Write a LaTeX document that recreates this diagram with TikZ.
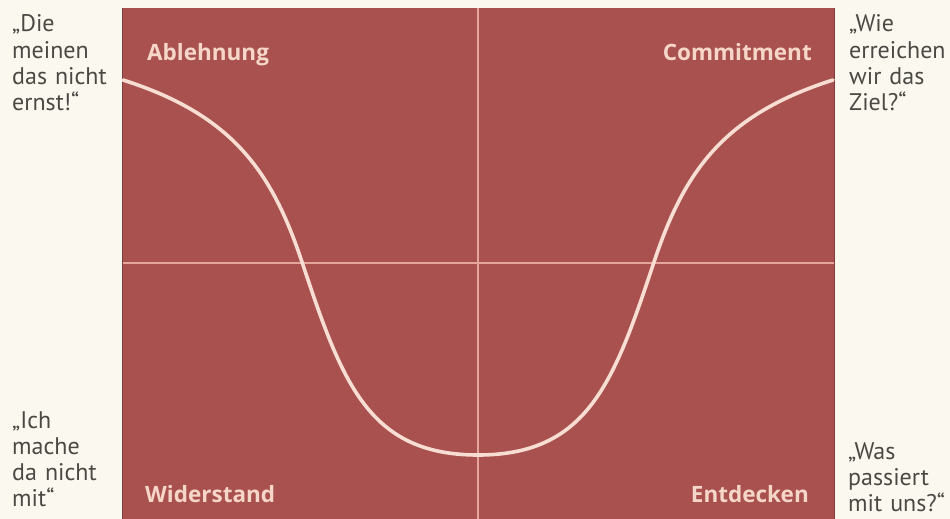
\documentclass[tikz,border=0pt]{standalone}
\usepackage{fontspec}
\setmainfont{PT Sans}
\newfontfamily\labelfont{Open Sans}
\definecolor{bgcream}{HTML}{FBF8EF}
\definecolor{panelred}{HTML}{A9514F}
\definecolor{paneledge}{HTML}{7E3C3A}
\definecolor{gridpink}{HTML}{E6A59C}
\definecolor{curvecream}{HTML}{F8DDD2}
\definecolor{labelpink}{HTML}{F6D6C9}
\definecolor{quotegray}{HTML}{4A4944}
\begin{document}
\begin{tikzpicture}[x=1pt,y=-1pt,
  quote/.style={anchor=base west, inner sep=0pt, text width=110pt, align=left,
    text=quotegray, font=\fontsize{24}{26.3}\selectfont},
  phase/.style={inner sep=0pt, text=labelpink, font=\labelfont\bfseries\fontsize{22.5}{26}\selectfont},
  gridline/.style={draw=gridpink, line width=2.2pt},
  curveline/.style={draw=curvecream, line width=3.6pt, line cap=round}]
\useasboundingbox (0,0) rectangle (950,519);
\fill[bgcream] (0,0) rectangle (950,519);
\fill[panelred] (122,8) rectangle (835,519);
\draw[paneledge, line width=1.5pt] (122.5,8) -- (122.5,519);
\draw[paneledge, line width=1.5pt] (834.5,8) -- (834.5,519);
% axes
\coordinate (vtop) at (478,8);
\coordinate (vbot) at (478,519);
\coordinate (hleft) at (123,263);
\coordinate (hright) at (834,263);
\draw[gridline] (vtop) -- (vbot);
\draw[gridline] (hleft) -- (hright);
% curve
\coordinate (cstart) at (123,80);
\coordinate (cleft) at (302,262);
\coordinate (cmin) at (478,455);
\coordinate (cright) at (654,262);
\coordinate (cend) at (833,80);
\draw[curveline] (cstart) .. controls (233,115) and (272,172) .. (cleft)
  .. controls (342,382) and (368,455) .. (cmin)
  .. controls (588,455) and (614,382) .. (cright)
  .. controls (684,172) and (723,115) .. (cend);
% phase labels
\node[phase, anchor=base west] (ablehnung) at (147,61) {Ablehnung};
\node[phase, anchor=base east] (commitment) at (812,61) {Commitment};
\node[phase, anchor=base west] (widerstand) at (145,502) {Widerstand};
\node[phase, anchor=base east] (entdecken) at (809,502) {Entdecken};
% quotes
\node[quote] (q1) at (12,32) {„Die\\meinen\\das nicht\\ernst!“};
\node[quote] (q2) at (849,32) {„Wie\\erreichen\\wir das\\Ziel?“};
\node[quote] (q3) at (12,428) {„Ich\\mache\\da nicht\\mit“};
\node[quote] (q4) at (848,459) {„Was\\passiert\\mit uns?“};
\end{tikzpicture}
\end{document}
